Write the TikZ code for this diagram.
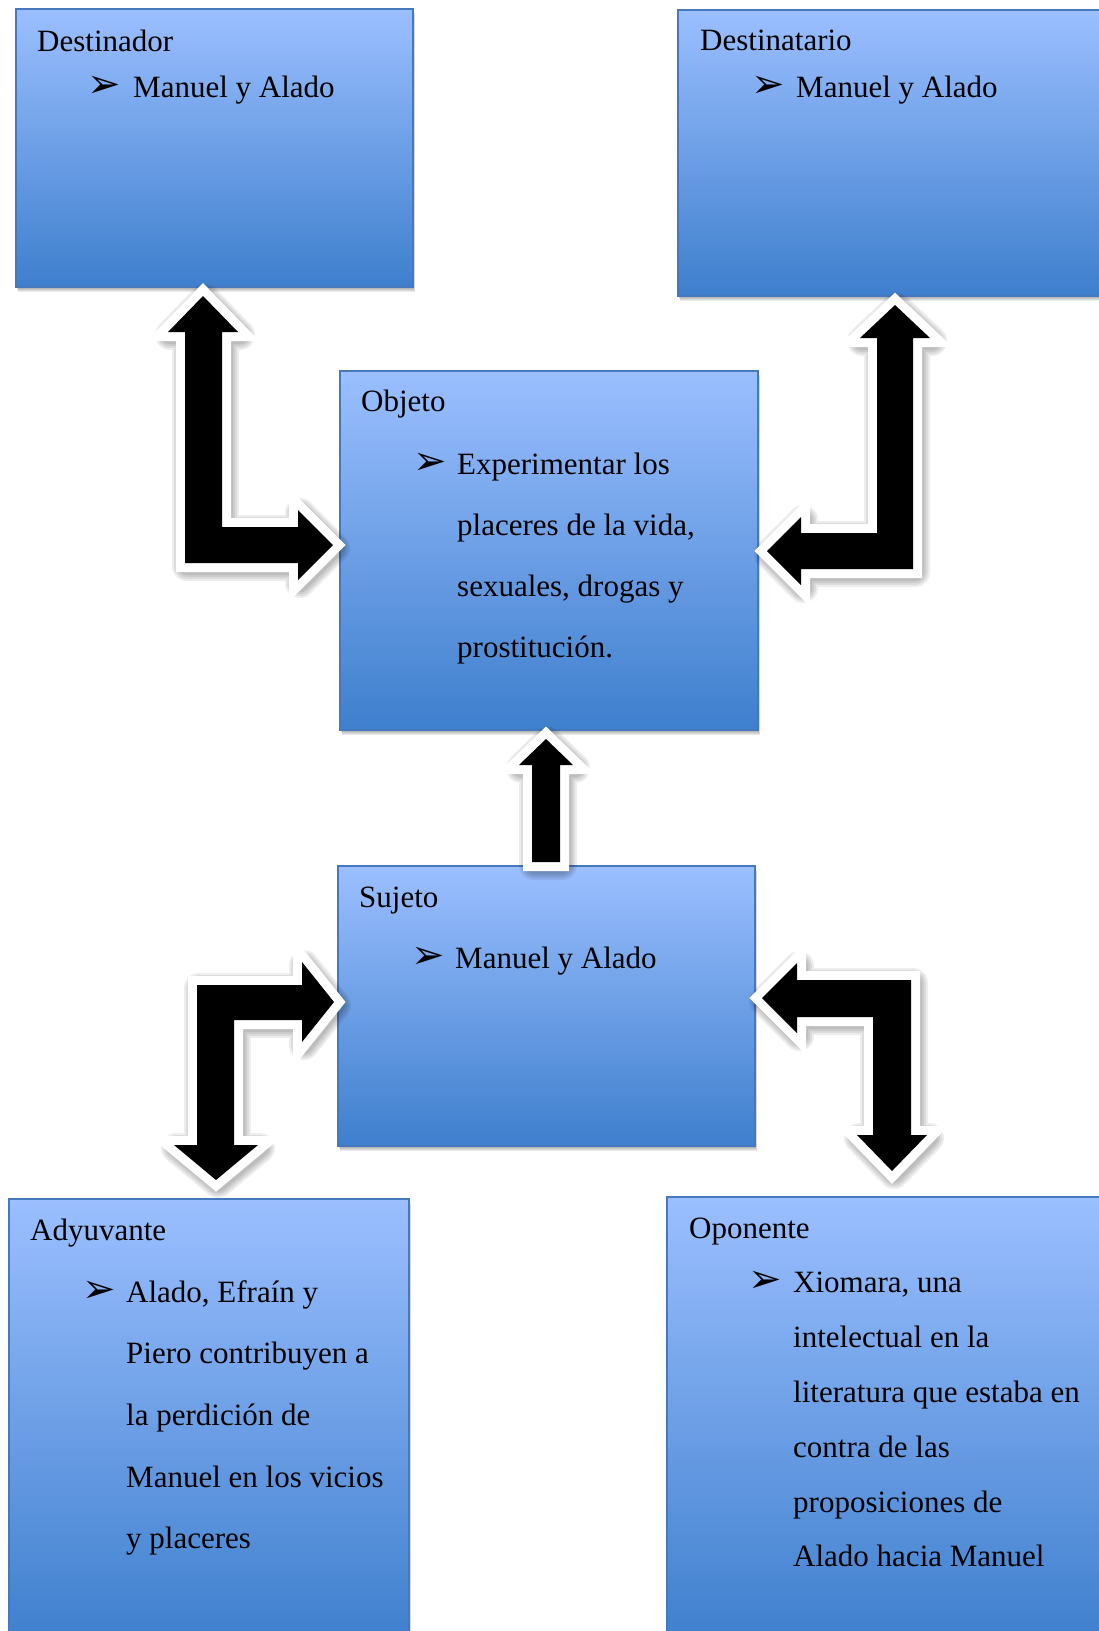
\documentclass[tikz,border=0pt]{standalone}
\usepackage{fontspec}
\setmainfont{Liberation Serif}
\newfontfamily\dejavu{DejaVu Sans}
\definecolor{boxtop}{RGB}{155,191,255}
\definecolor{boxbot}{RGB}{62,127,205}
\definecolor{boxborder}{RGB}{70,120,190}
\tikzset{
  box/.style={draw=boxborder, line width=1.2pt, top color=boxtop, bottom color=boxbot,
    anchor=north west, inner sep=0pt, outer sep=0pt},
  boxshadow/.style={fill=black, opacity=0.08},
  lbl/.style={anchor=base west, inner sep=0pt, font=\fontsize{31}{31}\selectfont},
  bul/.style={anchor=base west, inner sep=0pt, font=\dejavu\fontsize{40}{40}\selectfont},
  arrwhite/.style={fill=white, draw=white, line width=18pt, line join=miter},
  arrblack/.style={fill=black}
}
\newcommand\mkbox[5]{% name, x, y, w, h
  \foreach \dd in {1,2,3,4}{\fill[boxshadow] (#2+0.5*\dd,#3+1+\dd) rectangle ++(#4,#5);}
  \node[box, minimum width=#4pt, minimum height=#5pt] (#1) at (#2,#3) {};
}
\newcommand\blockarr[2]{%
  \foreach \ww in {30,26,22,18}{%
    \begin{scope}[shift={(2,3)}, transparency group, opacity=0.07]
      \path[fill=black, draw=black, line width=\ww pt, line join=round] #2;
    \end{scope}}
  \path[arrwhite] #2;
  \path[arrblack] #2;
  \coordinate (#1) at (0,0);
}
\begin{document}
\begin{tikzpicture}[x=1pt,y=-1pt]
\useasboundingbox (0,0) rectangle (1099,1631);
\clip (0,0) rectangle (1099,1631);
\fill[white] (0,0) rectangle (1099,1631);

% boxes
\mkbox{destinador}{16}{9}{397}{278}
\mkbox{destinatario}{678}{10}{430}{286}
\mkbox{objeto}{340}{371}{418}{359}
\mkbox{sujeto}{338}{866}{417}{280}
\mkbox{adyuvante}{9}{1199}{400}{445}
\mkbox{oponente}{667}{1197}{440}{447}

% texts
\node[lbl] (t1) at (37,51) {Destinador};
\node[bul] (b1) at (87,97) {➢};
\node[lbl] (t1a) at (133,97) {Manuel y Alado};

\node[lbl] (t2) at (700,50) {Destinatario};
\node[bul] (b2) at (751,97) {➢};
\node[lbl] (t2a) at (796,97) {Manuel y Alado};

\node[lbl] (t3) at (361,411) {Objeto};
\node[bul] (b3) at (413,474) {➢};
\node[lbl] (t3a) at (457,474) {Experimentar los};
\node[lbl] (t3b) at (457,535) {placeres de la vida,};
\node[lbl] (t3c) at (457,596) {sexuales, drogas y};
\node[lbl] (t3d) at (457,657) {prostitución.};

\node[lbl] (t4) at (359,907) {Sujeto};
\node[bul] (b4) at (411,968) {➢};
\node[lbl] (t4a) at (455,968) {Manuel y Alado};

\node[lbl] (t5) at (30,1240) {Adyuvante};
\node[bul] (b5) at (82,1302) {➢};
\node[lbl] (t5a) at (126,1302) {Alado, Efraín y};
\node[lbl] (t5b) at (126,1363) {Piero contribuyen a};
\node[lbl] (t5c) at (126,1425) {la perdición de};
\node[lbl] (t5d) at (126,1487) {Manuel en los vicios};
\node[lbl] (t5e) at (126,1548) {y placeres};

\node[lbl] (t6) at (689,1238) {Oponente};
\node[bul] (b6) at (748,1292) {➢};
\node[lbl] (t6a) at (793,1292) {Xiomara, una};
\node[lbl] (t6b) at (793,1347) {intelectual en la};
\node[lbl] (t6c) at (793,1402) {literatura que estaba en};
\node[lbl] (t6d) at (793,1457) {contra de las};
\node[lbl] (t6e) at (793,1512) {proposiciones de};
\node[lbl] (t6f) at (793,1566) {Alado hacia Manuel};

% block arrows
\blockarr{arrA}{(203,296) -- (238,332) -- (222,332) -- (222,527) -- (298,527) -- (298,510) -- (333,545) -- (298,580) -- (298,563) -- (185,563) -- (185,332) -- (168,332) -- cycle}
\blockarr{arrB}{(895,305) -- (930,338) -- (913,338) -- (913,569) -- (801,569) -- (801,585) -- (767,551) -- (801,517) -- (801,533) -- (877,533) -- (877,338) -- (860,338) -- cycle}
\blockarr{arrC}{(546,739) -- (573,765) -- (560,765) -- (560,862) -- (532,862) -- (532,765) -- (519,765) -- cycle}
\blockarr{arrD}{(197,985) -- (302,985) -- (302,962) -- (334,1002) -- (302,1042) -- (302,1020) -- (234,1020) -- (234,1145) -- (258,1145) -- (216,1180) -- (174,1145) -- (197,1145) -- cycle}
\blockarr{arrE}{(911,980) -- (797,980) -- (797,963) -- (762,998) -- (797,1033) -- (797,1017) -- (873,1017) -- (873,1135) -- (857,1135) -- (892,1171) -- (927,1135) -- (911,1135) -- cycle}
\end{tikzpicture}
\end{document}
